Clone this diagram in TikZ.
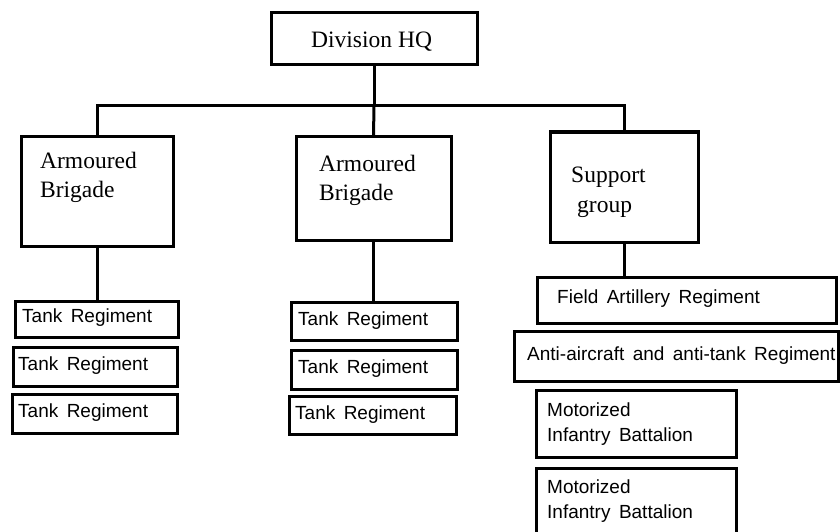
\documentclass[tikz,border=0pt]{standalone}
\usepackage{fontspec}
\setmainfont{Liberation Serif}
\newfontfamily\unitsans{Liberation Sans}[WordSpace=1.6]
\begin{document}
\begin{tikzpicture}[x=1pt,y=-1pt,
  box/.style={draw,line width=3pt,inner sep=0pt,outer sep=0pt,anchor=north west},
  link/.style={line width=3pt},
  serifTxt/.style={anchor=base west,inner sep=0pt,font=\fontsize{23.5}{29}\selectfont},
  sansTxt/.style={anchor=base west,inner sep=0pt,font=\unitsans\fontsize{19}{25}\selectfont}]
\clip (0,0) rectangle (840,532);
\fill[white] (0,0) rectangle (840,532);

% command level
\node[box,minimum width=206pt,minimum height=52pt] (hq) at (271,13) {};
\node[serifTxt] (hqT) at (311,48) {Division HQ};

% brigades and support group
\node[box,minimum width=152pt,minimum height=110pt] (lb) at (21,136) {};
\node[serifTxt] (lbT1) at (40,168) {Armoured};
\node[serifTxt] (lbT2) at (40,197) {Brigade};

\node[box,minimum width=155pt,minimum height=104pt] (mb) at (296,136) {};
\node[serifTxt] (mbT1) at (319,171) {Armoured};
\node[serifTxt] (mbT2) at (319,200) {Brigade};

\node[box,minimum width=148pt,minimum height=110pt] (sg) at (550,132) {};
\node[serifTxt] (sgT1) at (571,182) {Support};
\node[serifTxt] (sgT2) at (577,212) {group};

% left brigade regiments
\node[box,minimum width=163pt,minimum height=36pt] (lt1) at (15,301) {};
\node[sansTxt] (lt1T) at (22,322) {Tank Regiment};
\node[box,minimum width=164pt,minimum height=39pt] (lt2) at (13,347) {};
\node[sansTxt] (lt2T) at (18,370) {Tank Regiment};
\node[box,minimum width=165pt,minimum height=39pt] (lt3) at (12,394) {};
\node[sansTxt] (lt3T) at (18,417) {Tank Regiment};

% middle brigade regiments
\node[box,minimum width=166pt,minimum height=38pt] (mt1) at (291,302) {};
\node[sansTxt] (mt1T) at (298,325) {Tank Regiment};
\node[box,minimum width=166pt,minimum height=39pt] (mt2) at (291,350) {};
\node[sansTxt] (mt2T) at (298,373) {Tank Regiment};
\node[box,minimum width=167pt,minimum height=38pt] (mt3) at (289,396) {};
\node[sansTxt] (mt3T) at (295,419) {Tank Regiment};

% support group units
\node[box,minimum width=299pt,minimum height=46pt] (fa) at (537,277) {};
\node[sansTxt] (faT) at (557,303) {Field Artillery Regiment};
\node[box,minimum width=324pt,minimum height=50pt] (aa) at (514,331) {};
\node[sansTxt] (aaT) at (527,360) {Anti-aircraft and anti-tank Regiment};
\node[box,minimum width=200pt,minimum height=67pt] (mi1) at (536,390) {};
\node[sansTxt] (mi1T1) at (547,416) {Motorized};
\node[sansTxt] (mi1T2) at (547,441) {Infantry Battalion};
\node[box,minimum width=200pt,minimum height=80pt] (mi2) at (536,468) {};
\node[sansTxt] (mi2T1) at (547,493) {Motorized};
\node[sansTxt] (mi2T2) at (547,518) {Infantry Battalion};

% connectors
\coordinate (bus) at (hq.south |- 0,106);
\draw[link] (hq.south) -- (bus);
\draw[link] (lb.north) |- (bus) -| (sg.north);
\draw[link] (bus) -- (mb.north);
\draw[link] (lb.south) -- (lb.south |- lt1.north);
\draw[link] (mb.south) -- (mb.south |- mt1.north);
\draw[link] (sg.south) -- (sg.south |- fa.north);
\end{tikzpicture}
\end{document}
